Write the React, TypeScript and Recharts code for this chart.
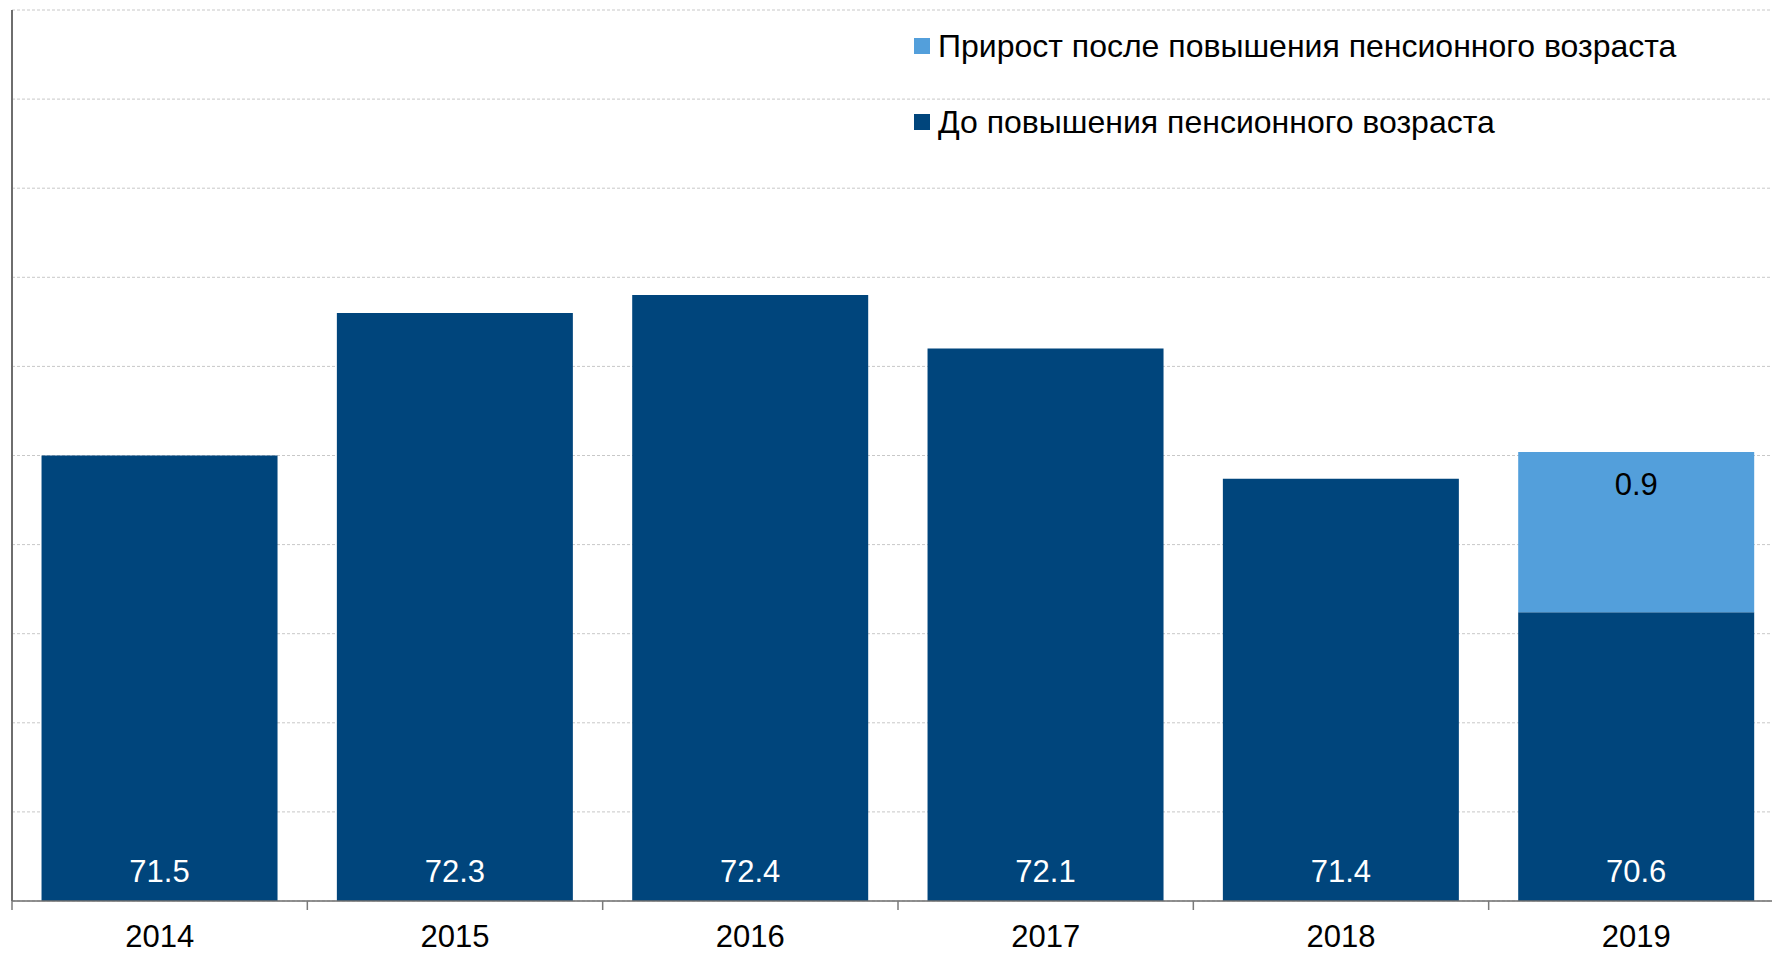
import React from 'react';
import { BarChart, Bar, XAxis, YAxis, CartesianGrid, Legend, LabelList } from 'recharts';

const years = ['2014', '2015', '2016', '2017', '2018', '2019'];
const beforeReform = [71.5, 72.3, 72.4, 72.1, 71.37, 70.62];
const reformIncrease: (number | null)[] = [null, null, null, null, null, 0.9];
const yTicks = [69, 69.5, 70, 70.5, 71, 71.5, 72, 72.5, 73, 73.5, 74];

const nameBefore = 'До повышения пенсионного возраста';
const nameIncrease = 'Прирост после повышения пенсионного возраста';

const data = years.map((year, i) => ({
  year,
  before: beforeReform[i],
  increase: reformIncrease[i],
}));

const FONT = '"Liberation Sans", Arial, Helvetica, sans-serif';
const W = 1800;
const H = 954;
const YW = 1;
const M = { top: 10, right: 16, left: 12 - YW, bottom: 0 };
const XH = 53;
const PLOT_BOTTOM = H - M.bottom - XH;
const BAND = (W - M.left - YW - M.right) / years.length;

const DARK = '#00457C';
const LIGHT = '#539FDB';

const EmptyTick = () => <g />;

const YearTick = (props: any) => {
  const { x, payload, index } = props;
  const cx = Number(x);
  return (
    <g>
      <line x1={cx - BAND / 2} x2={cx - BAND / 2} y1={PLOT_BOTTOM} y2={PLOT_BOTTOM + 9} stroke="#7a7a7a" strokeWidth={1.5} />
      {index === years.length - 1 && (
        <line x1={cx + BAND / 2} x2={cx + BAND / 2} y1={PLOT_BOTTOM} y2={PLOT_BOTTOM + 9} stroke="#7a7a7a" strokeWidth={1.5} />
      )}
      <text x={cx} y={PLOT_BOTTOM + 46} textAnchor="middle" fontSize={31} fill="#000" fontFamily={FONT}>
        {payload.value}
      </text>
    </g>
  );
};

const BaseLabel = (props: any) => {
  const { x, width, value } = props;
  if (value == null) return null;
  return (
    <text x={Number(x) + Number(width) / 2} y={PLOT_BOTTOM - 19} textAnchor="middle" fill="#ffffff" fontSize={31} fontFamily={FONT}>
      {Number(value).toFixed(1)}
    </text>
  );
};

const IncreaseLabel = (props: any) => {
  const { x, y, width, value } = props;
  if (value == null) return null;
  return (
    <text x={Number(x) + Number(width) / 2} y={Number(y) + 43} textAnchor="middle" fill="#000000" fontSize={31} fontFamily={FONT}>
      {Number(value).toFixed(1)}
    </text>
  );
};

const LegendContent = (props: any) => {
  const items = [...(props.payload || [])].reverse();
  return (
    <div style={{ fontFamily: FONT, fontSize: 32, color: '#000' }}>
      {items.map((it: any, i: number) => (
        <div key={i} style={{ display: 'flex', alignItems: 'center', height: 40, marginBottom: 36, whiteSpace: 'nowrap' }}>
          <span style={{ display: 'inline-block', width: 16, height: 16, background: it.color, marginRight: 8 }} />
          <span style={{ lineHeight: '40px' }}>{it.value}</span>
        </div>
      ))}
    </div>
  );
};

export default function App() {
  return (
    <div style={{ position: 'absolute', left: 0, top: 0, width: 1772, height: 954, overflow: 'hidden', background: '#fff' }}>
      <BarChart width={W} height={H} data={data} margin={M} barCategoryGap="10%" style={{ fontFamily: FONT }}>
        <CartesianGrid vertical={false} stroke="#c8c8c8" strokeDasharray="3 2" />
        <YAxis
          domain={[69, 74]}
          ticks={yTicks}
          interval={0}
          allowDataOverflow
          width={YW}
          tick={<EmptyTick />}
          tickLine={false}
          axisLine={{ stroke: '#6e6e6e', strokeWidth: 2 }}
        />
        <XAxis
          dataKey="year"
          height={XH}
          interval={0}
          tickLine={false}
          tickSize={0}
          axisLine={{ stroke: '#6e6e6e', strokeWidth: 1.5 }}
          tick={<YearTick />}
        />
        <Legend
          layout="vertical"
          align="center"
          verticalAlign="middle"
          wrapperStyle={{ position: 'absolute', top: 26, left: 914, width: 850 }}
          content={<LegendContent />}
        />
        <Bar dataKey="before" name={nameBefore} stackId="a" fill={DARK} isAnimationActive={false}>
          <LabelList dataKey="before" content={<BaseLabel />} />
        </Bar>
        <Bar dataKey="increase" name={nameIncrease} stackId="a" fill={LIGHT} isAnimationActive={false}>
          <LabelList dataKey="increase" content={<IncreaseLabel />} />
        </Bar>
      </BarChart>
    </div>
  );
}
